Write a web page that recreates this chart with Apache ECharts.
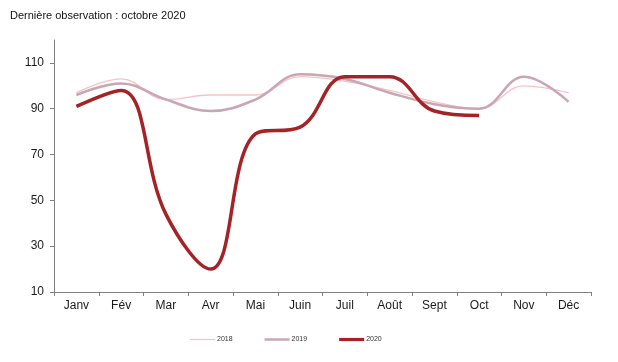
<!DOCTYPE html>
<html>
<head>
<meta charset="utf-8">
<script src="https://cdn.jsdelivr.net/npm/echarts@6/dist/echarts.min.js"></script>
<style>
  html, body { margin: 0; padding: 0; background: #fff; }
  #chart { width: 618px; height: 362px; }
</style>
</head>
<body>
<div id="chart"></div>
<script>
const months = ['Janv', 'Fév', 'Mar', 'Avr', 'Mai', 'Juin', 'Juil', 'Août', 'Sept', 'Oct', 'Nov', 'Déc'];
const values2018 = [97, 103, 94, 96, 96, 104, 102, 98, 93, 90, 100, 97];
const values2019 = [96, 101, 94, 89, 94, 105, 103, 97, 92, 90, 104, 93];
const values2020 = [91, 98, 44, 20, 79, 82, 104, 104, 89, 87];
const yTicks = [10, 30, 50, 70, 90, 110];

const FONT = '"Liberation Sans", Arial, sans-serif';
const C2018 = '#f6c4c8', C2019 = '#c9a6b4', C2020 = '#a32326';
const chart = echarts.init(document.getElementById('chart'), null, { renderer: 'canvas' });

chart.setOption({
  animation: false,
  backgroundColor: '#fff',
  title: {
    text: 'Dernière observation : octobre 2020',
    left: 10,
    top: 10,
    padding: 0,
    textStyle: { fontFamily: FONT, fontSize: 11, fontWeight: 'normal', color: '#111' }
  },
  grid: { left: 54, right: 27, top: 40, bottom: 70 },
  legend: {
    left: 190,
    top: 336,
    padding: 0,
    itemWidth: 25,
    itemHeight: 10,
    itemGap: 32,
    textStyle: { fontFamily: FONT, fontSize: 7, color: '#333', padding: [0, 0, 0, -3] },
    data: [
      { name: '2018', icon: 'path://M0,0L25,0L25,1.3L0,1.3Z', itemStyle: { color: C2018 } },
      { name: '2019', icon: 'path://M0,0L25,0L25,2.5L0,2.5Z', itemStyle: { color: C2019 } },
      { name: '2020', icon: 'path://M0,0L25,0L25,3.2L0,3.2Z', itemStyle: { color: C2020 } }
    ]
  },
  xAxis: {
    type: 'category',
    data: months,
    boundaryGap: true,
    axisLine: { lineStyle: { color: '#808080', width: 1 } },
    axisTick: { show: true, length: 4, lineStyle: { color: '#808080' } },
    axisLabel: { fontFamily: FONT, fontSize: 12, color: '#1a1a1a', margin: 8 },
    splitLine: { show: false }
  },
  yAxis: {
    type: 'value',
    min: 10,
    max: 120,
    interval: 20,
    axisLine: { show: true, lineStyle: { color: '#808080', width: 1 } },
    axisTick: { show: true, length: 4, customValues: yTicks, lineStyle: { color: '#808080' } },
    axisLabel: { fontFamily: FONT, fontSize: 12, color: '#1a1a1a', margin: 10, customValues: yTicks },
    splitLine: { show: false }
  },
  series: [
    {
      name: '2018', type: 'line', data: values2018, smooth: 0.4,
      symbol: 'none', z: 1,
      lineStyle: { color: C2018, width: 1.3 },
      itemStyle: { color: C2018 }
    },
    {
      name: '2019', type: 'line', data: values2019, smooth: 0.4,
      symbol: 'none', z: 2,
      lineStyle: { color: C2019, width: 2.5 },
      itemStyle: { color: C2019 }
    },
    {
      name: '2020', type: 'line', data: values2020, smooth: 0.4,
      symbol: 'none', z: 3,
      lineStyle: { color: C2020, width: 3.5 },
      itemStyle: { color: C2020 }
    }
  ]
});
</script>
</body>
</html>
